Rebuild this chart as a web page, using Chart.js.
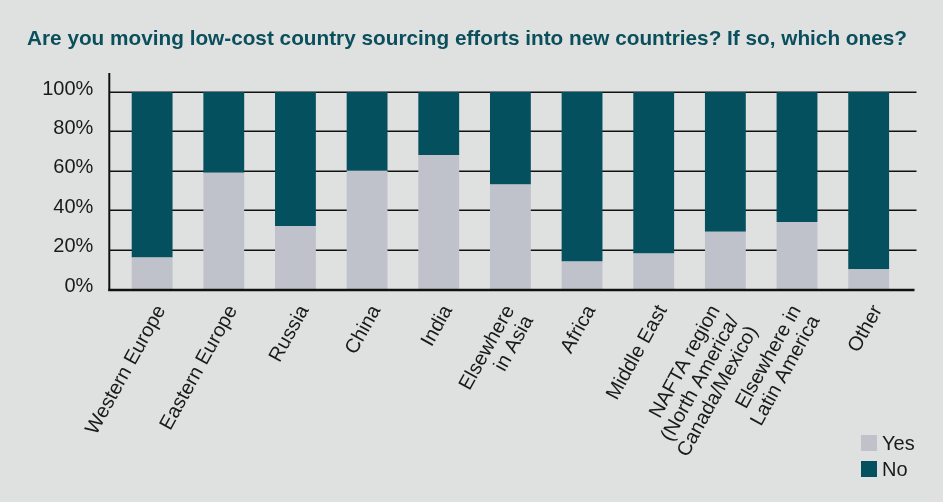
<!DOCTYPE html>
<html>
<head>
<meta charset="utf-8">
<script src="https://cdn.jsdelivr.net/npm/chart.js@4.4.1/dist/chart.umd.min.js"></script>
<style>
  html, body { margin: 0; padding: 0; background: #dfe1e0; }
  #wrap { position: relative; width: 943px; height: 502px; overflow: hidden; background: #dfe1e0; }
  #chart { position: absolute; left: 0; top: 0; }
  #title {
    position: absolute; left: 27px; top: 27px; white-space: nowrap;
    font-family: "Liberation Sans Narrow", "Liberation Sans", Arial, sans-serif; font-weight: bold;
    font-size: 21px; line-height: 21px; color: #0b4f5d; transform-origin: 0 0;
  }
  #legend { position: absolute; left: 861px; top: 430px; font-family: "Liberation Sans", Arial, sans-serif; font-size: 20px; color: #1a1a1a; }
  .row { display: flex; align-items: center; height: 26px; }
  .sw { width: 16px; height: 16px; margin-right: 5px; }
</style>
</head>
<body>
<div id="wrap">
  <canvas id="chart" width="943" height="502"></canvas>
  <div id="title">Are you moving low-cost country sourcing efforts into new countries? If so, which ones?</div>
  <div id="legend"></div>
</div>
<script>
// Regions asked about
const categories = [
  "Western Europe",
  "Eastern Europe",
  "Russia",
  "China",
  "India",
  ["Elsewhere", "in Asia"],
  "Africa",
  "Middle East",
  ["NAFTA region", "(North America/", "Canada/Mexico)"],
  ["Elsewhere in", "Latin America"],
  "Other"
];

// Share of respondents (%)
const yesValues = [16, 59, 32, 60, 68, 53, 14, 18, 29, 34, 10];
const noValues  = [84, 41, 68, 40, 32, 47, 86, 82, 71, 66, 90];

const seriesNames  = ["Yes", "No"];
const seriesColors = ["#bfc2ca", "#05505e"];

const yTicks = [0, 20, 40, 60, 80, 100];

const labelFont = '20px "Liberation Sans", Arial, sans-serif';
const labelAngle = 61 * Math.PI / 180;
const labelLineHeight = 21.5;

// Horizontal rules, the axis lines and the slanted category names
const axisLines = {
  id: 'axisLines',
  beforeDatasetsDraw(chart) {
    const { ctx, chartArea, scales } = chart;
    const y = scales.y;
    ctx.save();
    ctx.strokeStyle = '#111';
    ctx.lineWidth = 1.5;
    yTicks.forEach(v => {
      if (v === 0) return;
      const py = Math.round(y.getPixelForValue(v)) + 0.25;
      ctx.beginPath();
      ctx.moveTo(chartArea.left - 7, py);
      ctx.lineTo(chartArea.right + 12, py);
      ctx.stroke();
    });
    ctx.restore();
  },
  afterDatasetsDraw(chart) {
    const { ctx, chartArea, scales } = chart;
    const y = scales.y;
    const x = scales.x;
    const base = y.getPixelForValue(0) + 1;
    ctx.save();
    ctx.strokeStyle = '#111';
    ctx.lineWidth = 2.5;
    ctx.beginPath();
    ctx.moveTo(chartArea.left - 8, base);
    ctx.lineTo(chartArea.right + 10, base);
    ctx.stroke();
    ctx.lineWidth = 2;
    ctx.beginPath();
    ctx.moveTo(chartArea.left - 7, y.getPixelForValue(100) - 19);
    ctx.lineTo(chartArea.left - 7, base + 1);
    ctx.stroke();

    // category names: each block of lines slides along the slant so it sits centred on its bar
    ctx.fillStyle = '#1a1a1a';
    ctx.font = labelFont;
    ctx.textAlign = 'right';
    ctx.textBaseline = 'middle';
    const nx = Math.sin(labelAngle), ny = Math.cos(labelAngle);
    const top = chartArea.bottom + 18;
    categories.forEach((label, i) => {
      const lines = Array.isArray(label) ? label : [label];
      const n = lines.length;
      const tick = x.getPixelForTick(i);
      lines.forEach((line, k) => {
        const ex = tick + 9 + (k - (n - 1) / 2) * labelLineHeight * nx;
        const ey = top + k * labelLineHeight * ny;
        ctx.save();
        ctx.translate(ex, ey);
        ctx.rotate(-labelAngle);
        ctx.fillText(line, 0, 0);
        ctx.restore();
      });
    });
    ctx.restore();
  }
};

const chart = new Chart(document.getElementById('chart'), {
  type: 'bar',
  data: {
    labels: categories,
    datasets: [
      { label: seriesNames[0], data: yesValues, backgroundColor: seriesColors[0] },
      { label: seriesNames[1], data: noValues, backgroundColor: seriesColors[1] }
    ]
  },
  options: {
    responsive: false,
    animation: false,
    devicePixelRatio: 1,
    layout: { padding: { top: 92, right: 38.5, bottom: 0, left: 0 } },
    datasets: { bar: { categoryPercentage: 1, barPercentage: 0.57, borderWidth: 0 } },
    plugins: { legend: { display: false }, tooltip: { enabled: false }, title: { display: false } },
    scales: {
      x: {
        stacked: true,
        grid: { display: false, drawTicks: false },
        border: { display: false },
        afterFit(scale) { scale.height = 213; },
        ticks: { display: false, autoSkip: false }
      },
      y: {
        stacked: true,
        min: 0,
        max: 100,
        grid: { display: false, drawTicks: false },
        border: { display: false },
        afterFit(scale) { scale.width = 116.3; },
        afterBuildTicks(scale) { scale.ticks = yTicks.map(v => ({ value: v })); },
        ticks: {
          padding: 23,
          labelOffset: -3,
          color: '#1a1a1a',
          font: { family: '"Liberation Sans", Arial, sans-serif', size: 20 },
          callback: v => v + '%'
        }
      }
    }
  },
  plugins: [axisLines]
});

// Legend built from the series names and colours
const legend = document.getElementById('legend');
seriesNames.forEach((name, i) => {
  const row = document.createElement('div');
  row.className = 'row';
  const sw = document.createElement('div');
  sw.className = 'sw';
  sw.style.background = seriesColors[i];
  const tx = document.createElement('span');
  tx.textContent = name;
  row.appendChild(sw);
  row.appendChild(tx);
  legend.appendChild(row);
});

// Stretch the heading across its line
const title = document.getElementById('title');
const w = title.getBoundingClientRect().width;
title.style.transform = 'scaleX(' + (880 / w) + ')';
</script>
</body>
</html>
